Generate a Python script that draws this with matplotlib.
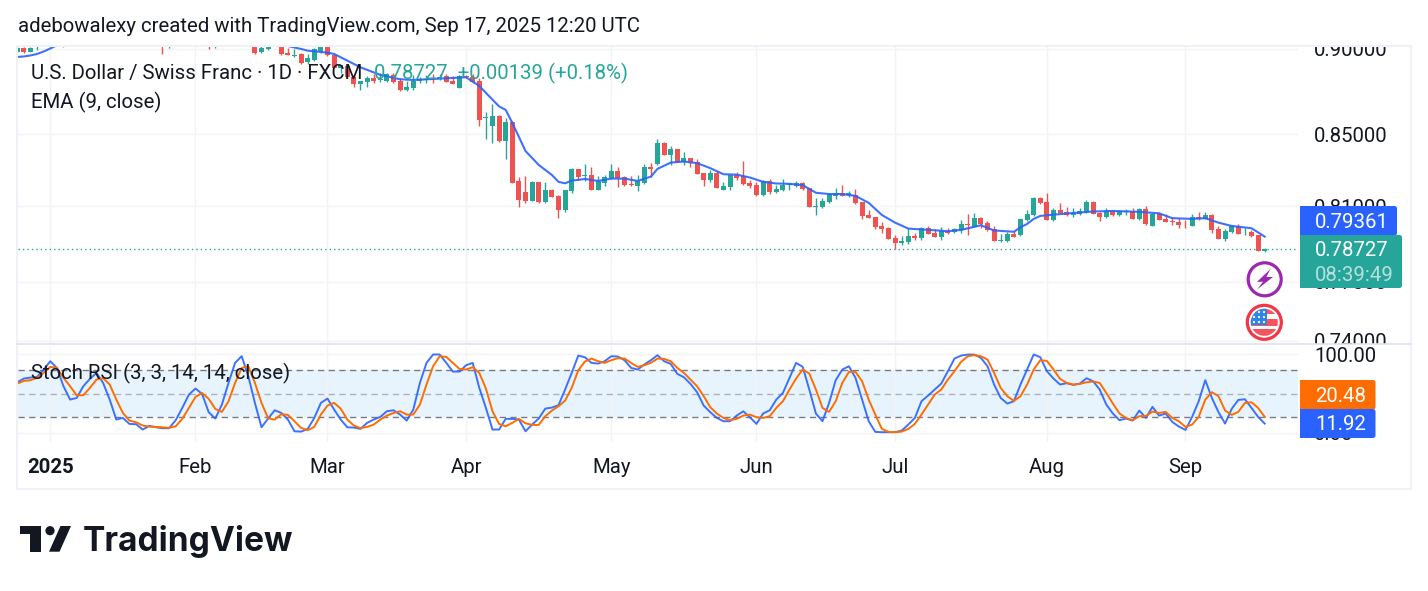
"""USD/CHF daily candles with EMA(9) and a Stoch RSI pane, laid out like a TradingView snapshot."""
import matplotlib

matplotlib.use("Agg")
import matplotlib.pyplot as plt
import numpy as np
from matplotlib.patches import Circle, FancyBboxPatch, Polygon, Rectangle
from matplotlib.transforms import offset_copy

plt.rcParams["font.family"] = ["Roboto", "DejaVu Sans"]

W, H = 1428, 591
UP, DOWN = "#26a69a", "#ef5350"
BLUE, ORANGE = "#2962ff", "#ff6d00"
INK = "#131722"
GRID = "#f2f3f6"
EDGE = "#eff1f6"
FS = 14.65

# daily bars, first one sits five sessions before the first January session
first_bar = -5
opens = [
    .8984, .9008, .8984, .9010, .9045, .9080, .9050, .9060, .9035, .9095,
    .9065, .9110, .9085, .9125, .9090, .9140, .9115, .9085, .9110, .9080,
    .9050, .9085, .9040, .9010, .9030, .9070, .9045, .9075, .9050, .9045,
    .9012, .9030, .9060, .9035, .9065, .9045, .9035, .8982, .9002, .9025,
    .9040, .8978, .8960, .8972, .8920, .8934, .8986, .9035, .8964, .8888,
    .8898, .8833, .8792, .8803, .8827, .8817, .8811, .8847, .8809, .8756,
    .8768, .8809, .8815, .8825, .8819, .8841, .8809, .8770, .8839, .8831,
    .8809, .8591, .8546, .8604, .8464, .8569, .8235, .8177, .8129, .8233,
    .8122, .8188, .8155, .8080, .8183, .8305, .8268, .8271, .8188, .8227,
    .8253, .8293, .8260, .8222, .8210, .8225, .8316, .8332, .8451, .8383,
    .8417, .8344, .8366, .8344, .8282, .8244, .8282, .8188, .8205, .8271,
    .8266, .8227, .8216, .8161, .8238, .8177, .8188, .8216, .8210, .8227,
    .8199, .8098, .8096, .8123, .8156, .8172, .8159, .8161, .8123, .8053,
    .8042, .7993, .7983, .7930, .7903, .7908, .7940, .7930, .7983, .7956,
    .7935, .7967, .7961, .7972, .8004, .7988, .8036, .8009, .7977, .7915,
    .7914, .7951, .7945, .8025, .8052, .8145, .8123, .8025, .8080, .8069,
    .8052, .8058, .8069, .8123, .8063, .8042, .8074, .8052, .8066, .8074,
    .8031, .8085, .7993, .8058, .8031, .8020, .8015, .8006, .7993, .8042,
    .8031, .8052, .7977, .7924, .7961, .7993, .7953, .7961, .7945, .78588,
]
closes = [
    .9008, .8984, .9008, .9030, .9060, .9052, .9085, .9030, .9075, .9065,
    .9100, .9080, .9120, .9095, .9130, .9110, .9085, .9110, .9075, .9050,
    .9085, .9040, .9014, .9035, .9060, .9045, .9075, .9050, .9070, .9010,
    .9030, .9055, .9035, .9065, .9040, .9025, .8978, .9006, .9016, .9045,
    .8970, .8966, .8966, .8918, .8946, .8998, .9040, .8962, .8888, .8904,
    .8833, .8792, .8809, .8827, .8809, .8822, .8849, .8803, .8756, .8772,
    .8811, .8819, .8821, .8819, .8831, .8805, .8792, .8839, .8835, .8803,
    .8582, .8596, .8604, .8464, .8569, .8229, .8134, .8129, .8233, .8122,
    .8188, .8150, .8080, .8188, .8305, .8262, .8273, .8188, .8235, .8260,
    .8293, .8253, .8216, .8216, .8235, .8316, .8305, .8451, .8383, .8417,
    .8344, .8366, .8338, .8277, .8244, .8282, .8199, .8210, .8271, .8255,
    .8222, .8210, .8161, .8238, .8177, .8194, .8216, .8220, .8227, .8194,
    .8096, .8102, .8129, .8166, .8166, .8156, .8170, .8118, .8048, .8036,
    .7988, .7977, .7924, .7903, .7914, .7940, .7930, .7983, .7951, .7935,
    .7967, .7956, .7976, .8004, .8000, .8036, .8004, .7972, .7914, .7920,
    .7951, .7935, .8031, .8058, .8145, .8118, .8025, .8080, .8063, .8052,
    .8063, .8074, .8123, .8058, .8042, .8074, .8052, .8074, .8071, .8031,
    .8085, .8004, .8058, .8025, .8015, .8013, .7999, .8002, .8042, .8031,
    .8052, .7972, .7924, .7967, .7993, .7951, .7957, .7940, .78588, .78727,
]
highs = [
    .9015, .9012, .9012, .9040, .9075, .9095, .9100, .9072, .9095, .9110,
    .9120, .9125, .9135, .9140, .9150, .9155, .9125, .9125, .9120, .9090,
    .9095, .9095, .9050, .9045, .9075, .9085, .9090, .9090, .9080, .9055,
    .9040, .9070, .9075, .9080, .9075, .9060, .9045, .9025, .9030, .9060,
    .9050, .9006, .9000, .8978, .8968, .9006, .9050, .9045, .8970, .8904,
    .8905, .8850, .8809, .8839, .8851, .8855, .8858, .8857, .8827, .8811,
    .8845, .8835, .8845, .8851, .8851, .8851, .8837, .8845, .8847, .8849,
    .8827, .8626, .8675, .8610, .8592, .8575, .8259, .8266, .8240, .8233,
    .8233, .8195, .8162, .8188, .8309, .8305, .8332, .8316, .8266, .8271,
    .8332, .8316, .8266, .8266, .8271, .8332, .8338, .8474, .8457, .8434,
    .8417, .8400, .8366, .8361, .8282, .8299, .8293, .8233, .8271, .8288,
    .8349, .8244, .8233, .8244, .8249, .8216, .8249, .8227, .8238, .8233,
    .8199, .8145, .8145, .8166, .8199, .8216, .8183, .8194, .8123, .8080,
    .8042, .8015, .7988, .7945, .7940, .7983, .7956, .7988, .7993, .7977,
    .7988, .7983, .7983, .8025, .8058, .8063, .8042, .8020, .7993, .7951,
    .7961, .7967, .8031, .8080, .8150, .8150, .8172, .8091, .8118, .8096,
    .8091, .8091, .8134, .8129, .8069, .8091, .8080, .8080, .8085, .8091,
    .8091, .8102, .8063, .8069, .8058, .8036, .8036, .8025, .8058, .8069,
    .8069, .8058, .7993, .7977, .7999, .8004, .7983, .7972, .7945, .78765,
]
lows = [
    .8978, .8978, .8980, .8994, .9025, .9035, .9035, .9012, .9030, .9050,
    .9055, .9070, .9075, .9085, .9080, .9095, .9070, .9070, .9065, .9040,
    .9035, .9030, .8968, .9008, .9025, .9035, .9035, .9040, .9040, .9000,
    .9004, .9025, .9025, .9028, .9032, .9022, .8970, .8974, .8994, .9022,
    .8965, .8966, .8952, .8910, .8910, .8930, .8978, .8958, .8884, .8858,
    .8825, .8772, .8756, .8776, .8799, .8805, .8805, .8799, .8750, .8750,
    .8756, .8799, .8799, .8799, .8815, .8801, .8792, .8770, .8829, .8799,
    .8547, .8475, .8452, .8454, .8361, .8229, .8098, .8119, .8129, .8119,
    .8115, .8150, .8038, .8066, .8173, .8244, .8235, .8188, .8188, .8212,
    .8248, .8206, .8212, .8210, .8183, .8222, .8260, .8327, .8383, .8327,
    .8344, .8327, .8316, .8277, .8210, .8233, .8199, .8188, .8188, .8244,
    .8216, .8199, .8156, .8156, .8166, .8172, .8183, .8188, .8205, .8188,
    .8096, .8052, .8091, .8118, .8140, .8156, .8150, .8113, .8031, .8036,
    .7977, .7956, .7924, .7871, .7892, .7898, .7919, .7919, .7951, .7935,
    .7919, .7951, .7956, .7956, .7945, .7988, .7983, .7967, .7914, .7908,
    .7908, .7935, .7940, .8020, .8047, .8113, .8025, .8020, .8063, .8047,
    .8042, .8052, .8063, .8058, .8020, .8036, .8047, .8047, .8052, .8031,
    .8025, .7999, .7993, .8025, .8015, .7999, .7983, .7983, .7993, .8025,
    .8031, .7956, .7924, .7914, .7956, .7951, .7945, .7935, .78588, .7855,
]

# EMA(9) vertices: bar number and value
ema_bars = [
    -5, -4, -3, -2, -1, 0, 1, 3, 10, 20, 30, 36, 38, 39, 42, 43, 45, 47, 50, 53,
    55, 58, 63, 65, 66, 68, 69, 70, 71, 72, 73, 74, 75, 76, 77, 78, 79, 80, 81, 83,
    85, 87, 89, 91, 92, 94, 96, 98, 100, 102, 104, 106, 108, 110, 112, 114, 116, 118, 120, 122,
    124, 126, 128, 130, 134, 136, 138, 141, 143, 146, 147, 148, 149, 150, 152, 155, 158, 161, 165, 168,
    170, 173, 175, 177, 179, 182, 184,
]
ema_values = [
    .8952, .8955, .8961, .8970, .8985, .9003, .9022, .9060, .9095, .9080, .9050, .9018, .9000, .8990, .8978, .8970, .8930, .8890, .8845, .8819,
    .8815, .8821, .8831, .8780, .8739, .8660, .8640, .8565, .8485, .8405, .8366, .8327, .8299, .8271, .8233, .8225, .8240, .8244, .8249, .8238,
    .8251, .8251, .8238, .8262, .8305, .8340, .8346, .8337, .8309, .8275, .8273, .8257, .8233, .8224, .8222, .8215, .8173, .8166, .8166, .8156,
    .8118, .8052, .8011, .7979, .7970, .7965, .7972, .7997, .7969, .7962, .7986, .8004, .8031, .8047, .8054, .8063, .8071, .8074, .8069, .8061,
    .8035, .8031, .8035, .8011, .7993, .7981, .79361,
]

stoch_k = [
    64.6, 69.3, 70.6, 71.4, 80.8, 91.4, 82.9, 59.5, 42.5, 44.6,
    59.5, 68.9, 76.5, 63.8, 42.5, 17.0, 19.1, 11.5, 11.1, 4.3,
    8.9, 7.2, 6.0, 6.0, 16.2, 31.9, 48.9, 56.6, 49.7, 26.4,
    18.3, 36.1, 63.8, 89.3, 97.8, 72.3, 38.3, 7.2, 18.3, 28.9,
    25.5, 17.0, 2.1, 1.7, 5.1, 19.1, 38.3, 43.8, 29.8, 17.0,
    7.2, 6.8, 5.1, 12.8, 17.0, 20.4, 27.6, 28.9, 23.4, 15.7,
    29.8, 63.8, 89.3, 100.0, 100.0, 89.3, 78.2, 78.2, 86.3, 89.3,
    57.4, 31.9, 4.3, 4.3, 17.9, 17.9, 17.0, 2.1, 10.6, 18.3,
    31.0, 32.3, 35.3, 55.3, 76.5, 98.6, 96.5, 89.3, 88.4, 91.4,
    97.8, 97.4, 92.7, 82.9, 80.8, 87.2, 92.7, 99.1, 91.4, 88.0,
    75.3, 71.0, 62.5, 51.9, 34.9, 26.4, 19.1, 14.9, 14.9, 22.1,
    27.6, 20.0, 11.5, 24.7, 28.9, 42.5, 51.0, 70.2, 89.3, 84.2,
    55.3, 24.7, 14.9, 38.3, 67.2, 80.8, 85.0, 70.2, 42.5, 14.9,
    1.3, 0.9, 0.9, 0.9, 3.0, 10.6, 19.1, 40.4, 47.6, 55.3,
    63.0, 78.7, 94.8, 98.6, 99.9, 99.9, 95.7, 85.0, 61.7, 44.6,
    37.4, 40.4, 61.7, 80.8, 100.0, 96.5, 78.7, 69.3, 61.7, 63.4,
    61.2, 62.9, 69.7, 65.9, 55.3, 36.1, 24.7, 16.2, 18.3, 15.7,
    28.5, 19.1, 33.2, 22.1, 24.7, 14.0, 8.1, 3.8, 20.4, 40.4,
    67.2, 44.6, 26.4, 11.9, 30.6, 42.1, 42.9, 31.9, 20.4, 11.92,
]
stoch_d = [
    62.9, 66.3, 67.2, 70.2, 76.5, 84.2, 82.9, 70.2, 59.5, 48.0,
    48.0, 57.4, 68.0, 69.7, 61.7, 42.5, 25.5, 15.7, 13.6, 9.4,
    8.1, 7.7, 7.2, 6.4, 8.5, 17.9, 31.9, 45.9, 51.0, 43.4,
    30.6, 26.8, 40.4, 63.8, 82.9, 85.0, 63.8, 38.3, 18.7, 17.0,
    23.8, 23.0, 14.9, 6.4, 3.4, 7.7, 23.4, 34.9, 38.3, 31.0,
    17.0, 9.4, 6.0, 7.7, 10.6, 17.0, 22.1, 25.5, 27.6, 23.4,
    23.4, 36.1, 61.7, 85.0, 97.8, 96.9, 89.3, 81.6, 80.8, 83.8,
    76.5, 56.6, 27.6, 11.5, 8.5, 12.8, 17.9, 12.3, 10.2, 10.2,
    21.3, 28.5, 34.0, 41.2, 57.4, 79.9, 91.0, 94.8, 91.4, 89.3,
    92.7, 95.2, 94.8, 89.3, 84.2, 86.3, 89.3, 94.8, 94.4, 91.4,
    82.9, 76.5, 68.0, 59.5, 46.8, 32.7, 24.7, 19.1, 16.2, 17.9,
    22.1, 23.4, 20.0, 19.1, 21.3, 31.9, 40.4, 55.3, 69.3, 80.8,
    75.7, 55.3, 31.9, 26.8, 40.4, 63.8, 77.8, 77.8, 65.9, 42.5,
    23.4, 5.1, 1.3, 0.9, 1.7, 5.1, 11.5, 23.4, 36.1, 48.9,
    55.3, 68.0, 78.7, 90.6, 97.8, 99.1, 97.8, 93.5, 76.5, 57.4,
    46.8, 40.8, 46.8, 61.7, 80.8, 92.7, 91.8, 80.8, 68.9, 63.8,
    61.7, 62.5, 64.6, 65.5, 63.8, 51.0, 37.4, 24.7, 19.1, 16.2,
    21.3, 21.7, 27.2, 25.5, 26.8, 19.1, 14.9, 7.7, 10.6, 20.4,
    42.5, 51.9, 46.8, 28.5, 23.0, 26.8, 38.3, 39.1, 31.9, 20.48,
]

price_grid = [0.90, 0.85, 0.81, 0.77, 0.74]
price_labels = ["0.90000", "0.85000", "0.81000", "0.77000", "0.74000"]
stoch_grid = [100, 0]
stoch_labels = ["100.00", "0.00"]
month_bars = [0, 22, 42, 63, 85, 107, 128, 151, 172]
month_labels = ["2025", "Feb", "Mar", "Apr", "May", "Jun", "Jul", "Aug", "Sep"]

last_price = 0.78727
last_ema = 0.79361
last_k, last_d = 11.92, 20.48


def px_axes(fig, x0, y0, x1, y1):
    return fig.add_axes([x0 / W, 1 - y1 / H, (x1 - x0) / W, (y1 - y0) / H])


fig = plt.figure(figsize=(W / 100, H / 100), dpi=100, facecolor="white")
bars = np.arange(first_bar, first_bar + len(closes))
opens, highs, lows, closes = map(np.array, (opens, highs, lows, closes))

# bar number <-> pixel: 50.3 + 6.6 * bar
xlim = ((18 - 50.3) / 6.6, (1410 - 50.3) / 6.6)
plot_end = (1298 - 50.3) / 6.6
label_x = (1314 - 50.3) / 6.6

# price pane
ax = px_axes(fig, 18, 46, 1410, 344)
ax.set_yscale("log")
ax.set_xlim(xlim)
ax.set_ylim(0.7385, 0.9018)
ax.hlines(price_grid, xlim[0], plot_end, color=GRID, lw=1, zorder=1)
ax.vlines(month_bars, 0.7, 0.95, color=GRID, lw=1, zorder=1)
ax.hlines(last_price, xlim[0], plot_end, color=UP, lw=1, ls=(0, (1, 2.2)), zorder=2)

rising = closes >= opens
colors = np.where(rising, UP, DOWN)
ax.vlines(bars, lows, highs, color=colors, lw=1.0, zorder=3)
body_low = np.minimum(opens, closes)
body_high = np.maximum(opens, closes)
ax.bar(bars, body_high - body_low, bottom=body_low, width=0.76, color=colors, lw=0, zorder=4)
ax.plot(ema_bars, ema_values, color=BLUE, lw=1.5, alpha=0.9, zorder=5)

# axis labels sit a touch below their grid lines
price_text = offset_copy(ax.transData, fig=fig, y=-1.4, units="points")
for p, lab in zip(price_grid, price_labels):
    ax.text(label_x, p, lab, fontsize=FS, color=INK, va="center", ha="left", clip_on=True,
            transform=price_text)

# stoch RSI pane
ax2 = px_axes(fig, 18, 345, 1410, 441.7)
ax2.set_xlim(xlim)
ax2.set_ylim(-11.2, 112.1)
ax2.fill_between([xlim[0], plot_end], 20, 80, color="#2196f3", alpha=0.1, lw=0, zorder=1)
ax2.hlines(stoch_grid, xlim[0], plot_end, color=GRID, lw=1, zorder=1)
ax2.vlines(month_bars, -11.2, 112.1, color=GRID, lw=1, zorder=1)
ax2.hlines([80, 20], xlim[0], plot_end, color="#787b86", lw=1, ls=(0, (4.5, 3.2)), zorder=2)
ax2.hlines(50, xlim[0], plot_end, color="#787b86", lw=1, alpha=0.55, ls=(0, (4.5, 3.2)), zorder=2)
ax2.plot(bars, stoch_k, color=BLUE, lw=1.4, alpha=0.9, zorder=3)
ax2.plot(bars, stoch_d, color=ORANGE, lw=1.4, zorder=4)
stoch_text = offset_copy(ax2.transData, fig=fig, y=-1.4, units="points")
for v, lab in zip(stoch_grid, stoch_labels):
    ax2.text(label_x, v, lab, fontsize=FS, color=INK, va="center", ha="left", clip_on=True,
             transform=stoch_text)

ax2.set_xticks(month_bars, month_labels)
ax2.tick_params(axis="x", length=0, pad=12, labelsize=FS, labelcolor=INK)
ax2.get_xticklabels()[0].set_fontweight("bold")
ax2.set_yticks([])

for a in (ax, ax2):
    a.set_facecolor("none")
    for s in a.spines.values():
        s.set_visible(False)
ax.set_xticks([])
ax.set_yticks([])
ax.minorticks_off()

# everything else lives in a pixel-space layer on top of the panes
top = fig.add_axes([0, 0, 1, 1], zorder=10)
top.set_xlim(0, W)
top.set_ylim(H, 0)
top.axis("off")
top.patch.set_alpha(0)

top.add_patch(Rectangle((17, 45.5), 1394, 443, fill=False, ec=EDGE, lw=1.5))
top.plot([17, 1411], [344.3, 344.3], color="#e0e3eb", lw=1.2)


def badge(x0, y0, x1, y1, color):
    # square on the axis side, rounded towards the labels
    top.add_patch(FancyBboxPatch((x0 + 3, y0), x1 - x0 - 3, y1 - y0, boxstyle="round,pad=0,rounding_size=2.5",
                                 fc=color, ec="none", zorder=3))
    top.add_patch(Rectangle((x0, y0), 5, y1 - y0, fc=color, ec="none", zorder=3))


badge(1300, 206, 1397, 235.5, BLUE)
badge(1300, 235, 1402, 288, UP)
badge(1300, 380, 1375.5, 409.5, ORANGE)
badge(1300, 409, 1375.5, 438, BLUE)
for y, s, c in ((222, f"{last_ema:.5f}", "white"), (251, f"{last_price:.5f}", "white"),
                (275.5, "08:39:49", "#b6e0dc"), (396, f"{last_d:.2f}", "white"), (425, f"{last_k:.2f}", "white")):
    top.text(1315, y, s, color=c, fontsize=FS, va="center", ha="left", zorder=4)

top.text(18, 27, "adebowalexy created with TradingView.com, Sep 17, 2025 12:20 UTC",
         fontsize=FS, color=INK, va="center")
top.text(31, 73, "U.S. Dollar / Swiss Franc · 1D · FXCM", fontsize=FS, color=INK, va="center")
top.text(374, 73, "0.78727  +0.00139 (+0.18%)", fontsize=FS, color=UP, va="center")
top.text(31, 102, "EMA (9, close)", fontsize=FS, color=INK, va="center")
top.text(31, 373, "Stoch RSI (3, 3, 14, 14, close)", fontsize=FS, color=INK, va="center")

# event bubbles below the last bar
top.add_patch(Circle((1264.7, 279.3), 16.5, fc="white", ec="#9c27b0", lw=2.3))
top.add_patch(Polygon([(1270.5, 269), (1257, 281.8), (1263, 281.8), (1257, 289.5),
                       (1273, 277), (1266.3, 277)], fc="#9c27b0", ec="none"))
top.add_patch(Circle((1264.3, 322.3), 17, fc="white", ec="#f23645", lw=2.3))
flag = Circle((1264.3, 322.3), 13.5, transform=top.transData)
for y0, y1 in ((308, 314), (319, 326), (329, 337)):
    r = Rectangle((1250, y0), 29, y1 - y0, fc="#f7525f", ec="none")
    top.add_patch(r)
    r.set_clip_path(flag)
canton = Rectangle((1250, 308), 17.3, 17, fc="#2e86e8", ec="none")
top.add_patch(canton)
canton.set_clip_path(flag)
for yy in (312, 317, 322):
    for xx in (1254, 1259, 1264):
        top.add_patch(Circle((xx, yy), 1.1, fc="white", ec="none"))

# brand mark and wordmark
logo = "#131722"
top.add_patch(Polygon([(20, 526), (41, 526), (41, 551.7), (30, 551.7), (30, 534.3), (20, 534.3)], fc=logo, ec="none"))
top.add_patch(Circle((50, 530.7), 4.6, fc=logo, ec="none"))
top.add_patch(Polygon([(60.5, 526), (71, 526), (59.5, 551.7), (49, 551.7)], fc=logo, ec="none"))
top.text(82.5, 542, "TradingView", fontsize=24.1, fontfamily="Inter", fontweight="bold", color=logo,
         va="center", ha="left")

fig.savefig("out.png", dpi=100)
